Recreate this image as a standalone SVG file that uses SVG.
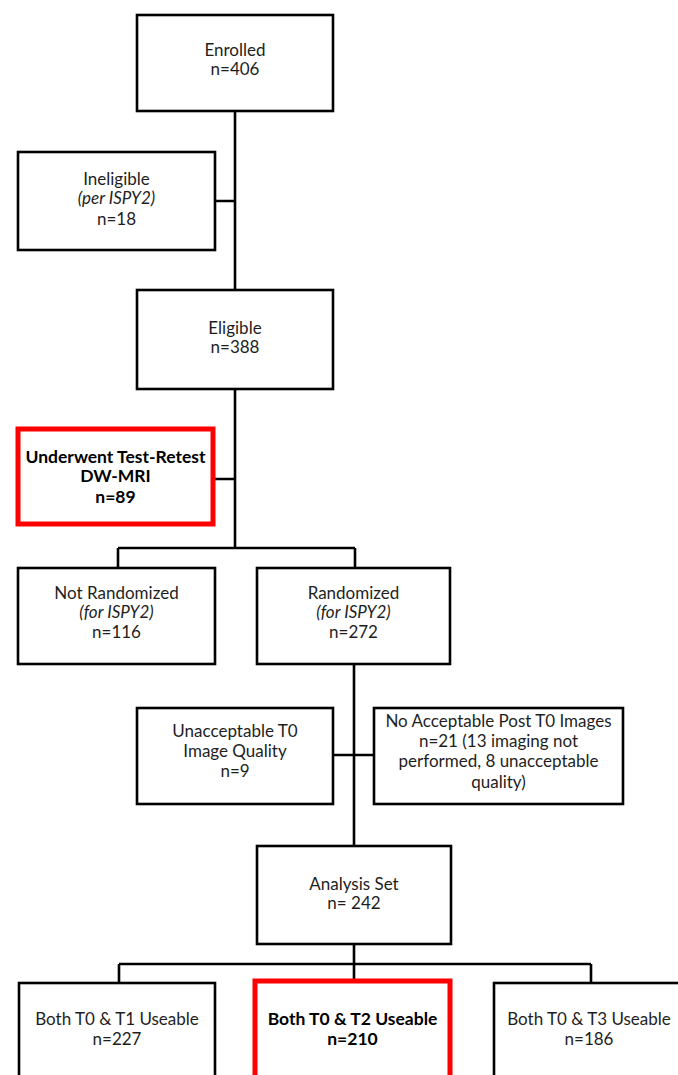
<svg xmlns="http://www.w3.org/2000/svg" width="678" height="1075" viewBox="0 0 678 1075">
<style>
.box{fill:#fff;stroke:#000;stroke-width:2.6}
.red{fill:#fff;stroke:#ff0000;stroke-width:5}
.ln{stroke:#000;stroke-width:2.6;fill:none}
text{font-family:Lato,"Liberation Sans",sans-serif;font-size:17px;fill:#1e1e1e;text-anchor:middle}
.it{font-style:italic}
.b{font-weight:bold;fill:#000;font-size:17.5px}
</style>
<rect width="678" height="1075" fill="#fff"/>
<g id="connectors">
<path class="ln" d="M235,111V290M215,201H235M235,389V548M213,479H235M118,548H355M118,548V568M355,548V568M354,664V846M333,755H374M354,944V964M119,964H591M119,964V983M354,964V981M591,964V983"/>
</g>
<g id="enrolled"><rect class="box" x="137" y="15" width="196" height="96"/><text x="235" y="56">Enrolled</text><text x="235" y="75">n=406</text></g>
<g id="ineligible"><rect class="box" x="18" y="152" width="197" height="98"/><text x="116.5" y="185">Ineligible</text><text class="it" x="116.5" y="204">(per ISPY2)</text><text x="116.5" y="225">n=18</text></g>
<g id="eligible"><rect class="box" x="137" y="290" width="196" height="99"/><text x="235" y="334">Eligible</text><text x="235" y="353">n=388</text></g>
<g id="testretest"><rect class="red" x="18" y="429" width="195" height="95"/><text class="b" x="115.5" y="463">Underwent Test-Retest</text><text class="b" x="115.5" y="482">DW-MRI</text><text class="b" x="115.5" y="503">n=89</text></g>
<g id="notrandomized"><rect class="box" x="18" y="568" width="197" height="96"/><text x="116.5" y="599">Not Randomized</text><text class="it" x="116.5" y="618">(for ISPY2)</text><text x="116.5" y="638">n=116</text></g>
<g id="randomized"><rect class="box" x="257" y="568" width="193" height="96"/><text x="353.5" y="599">Randomized</text><text class="it" x="353.5" y="618">(for ISPY2)</text><text x="353.5" y="638">n=272</text></g>
<g id="unacceptable"><rect class="box" x="137" y="708" width="196" height="96"/><text x="235" y="737">Unacceptable T0</text><text x="235" y="757">Image Quality</text><text x="235" y="777">n=9</text></g>
<g id="nopost"><rect class="box" x="374" y="708" width="249" height="96"/><text x="498.5" y="727">No Acceptable Post T0 Images</text><text x="498.5" y="747">n=21 (13 imaging not</text><text x="498.5" y="767">performed, 8 unacceptable</text><text x="498.5" y="788">quality)</text></g>
<g id="analysis"><rect class="box" x="257" y="846" width="194" height="98"/><text x="354" y="890">Analysis Set</text><text x="354" y="909">n= 242</text></g>
<g id="t1"><rect class="box" x="19" y="983" width="196" height="120"/><text x="117" y="1025">Both T0 &amp; T1 Useable</text><text x="117" y="1045">n=227</text></g>
<g id="t2"><rect class="red" x="255" y="981" width="195" height="120"/><text class="b" x="352.5" y="1025">Both T0 &amp; T2 Useable</text><text class="b" x="352.5" y="1045">n=210</text></g>
<g id="t3"><rect class="box" x="494" y="983" width="200" height="120"/><text x="589" y="1025">Both T0 &amp; T3 Useable</text><text x="589" y="1045">n=186</text></g>
</svg>
